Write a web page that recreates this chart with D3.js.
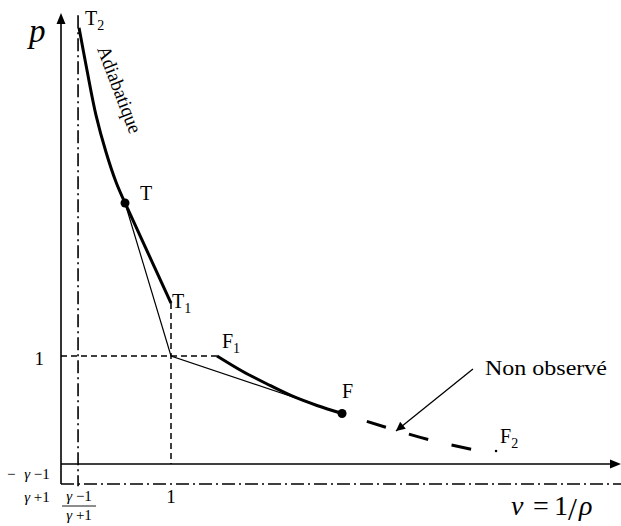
<!DOCTYPE html>
<html>
<head>
<meta charset="utf-8">
<script src="https://cdn.jsdelivr.net/npm/d3@7"></script>
<style>
body{margin:0;background:#fff}
svg text{font-family:"Liberation Serif","Times New Roman",serif;fill:#000}
</style>
</head>
<body>
<svg id="chart" width="621" height="526" font-family="Liberation Serif, serif"></svg>
<script>
// adiabat, upper branch T2 -> T
var adiabatV = [0.164, 0.236, 0.318, 0.409, 0.500, 0.582];
var adiabatP = [4.04, 3.648, 3.231, 2.889, 2.611, 2.417];
// T -> T1
var segV = [0.582, 1.0];
var segP = [2.417, 1.49];
// lower branch F1 -> F
var lowerV = [1.418, 1.645, 1.873, 2.100, 2.327, 2.555];
var lowerP = [1.000, 0.861, 0.741, 0.630, 0.542, 0.468];
// not observed, F -> F2
var unobsV = [2.555, 2.945, 3.355, 3.764];
var unobsP = [0.468, 0.343, 0.222, 0.130];
// named points
var pointNames = ['T2', 'T', 'T1', 'F1', 'F', 'F2'];
var pointV = [0.164, 0.582, 1.0, 1.418, 2.555, 3.955];
var pointP = [4.04, 2.417, 1.49, 1.0, 0.468, 0.12];
// asymptotes (gamma-1)/(gamma+1)
var asymV = 0.155, asymP = -0.185;
// annotation arrow
var arrowV = [3.745, 3.045], arrowP = [0.88, 0.306];

var svg = d3.select('#chart');
var x = d3.scaleLinear().domain([0, 5]).range([61, 611]);
var y = d3.scaleLinear().domain([0, 4]).range([464, 32]);

function zip(vs, ps){ return vs.map(function(v, i){ return [v, ps[i]]; }); }
var line = d3.line().x(function(d){ return x(d[0]); }).y(function(d){ return y(d[1]); });
var curve = d3.line().curve(d3.curveMonotoneX).x(function(d){ return x(d[0]); }).y(function(d){ return y(d[1]); });

var xMax = x.invert(621), yMax = y.invert(13);

// arrowhead marker for annotation
svg.append('defs').append('marker')
  .attr('id', 'head').attr('viewBox', '0 0 10 10').attr('refX', 10).attr('refY', 5)
  .attr('markerWidth', 11).attr('markerHeight', 9).attr('markerUnits', 'userSpaceOnUse')
  .attr('orient', 'auto')
  .append('path').attr('d', 'M0,0L10,5L0,10z').attr('fill', '#000');

// asymptotes, dash-dot
svg.append('path').attr('d', line([[asymV, yMax - 0.02], [asymV, asymP - 0.02]]))
  .attr('stroke', '#000').attr('stroke-width', 1.6).attr('stroke-dasharray', '13,4,2,4').attr('fill', 'none');
svg.append('path').attr('d', line([[0, asymP], [xMax, asymP]]))
  .attr('stroke', '#000').attr('stroke-width', 1.6).attr('stroke-dasharray', '13,4,2,4').attr('fill', 'none');

// guides at 1
svg.append('path').attr('d', line([[0, 1], [pointV[3], 1]]))
  .attr('stroke', '#000').attr('stroke-width', 1.5).attr('stroke-dasharray', '6,4').attr('fill', 'none');
svg.append('path').attr('d', line([[1, pointP[2]], [1, 0]]))
  .attr('stroke', '#000').attr('stroke-width', 1.5).attr('stroke-dasharray', '6,4').attr('fill', 'none');

// axes
svg.append('path').attr('d', line([[0, asymP], [0, yMax - 0.1]]))
  .attr('stroke', '#000').attr('stroke-width', 1.6).attr('fill', 'none');
svg.append('path').attr('d', 'M' + x(0) + ',' + y(yMax) + 'l-4.5,11h9z').attr('fill', '#000');
svg.append('path').attr('d', line([[0, 0], [xMax - 0.08, 0]]))
  .attr('stroke', '#000').attr('stroke-width', 1.6).attr('fill', 'none');
svg.append('path').attr('d', 'M' + x(xMax) + ',' + y(0) + 'l-11,-4.5v9z').attr('fill', '#000');

// Rayleigh lines (thin)
svg.append('path').attr('d', line([[pointV[1], pointP[1]], [1, 1], [pointV[4], pointP[4]]]))
  .attr('stroke', '#000').attr('stroke-width', 1.2).attr('fill', 'none');

// adiabat thick
svg.append('path').attr('d', d3.line().curve(d3.curveCatmullRom)
    .x(function(d){ return x(d[0]); }).y(function(d){ return y(d[1]); })(zip(adiabatV, adiabatP)))
  .attr('stroke', '#000').attr('stroke-width', 3).attr('fill', 'none');
svg.append('path').attr('d', line(zip(segV, segP)))
  .attr('stroke', '#000').attr('stroke-width', 3).attr('fill', 'none');
svg.append('path').attr('d', curve(zip(lowerV, lowerP)))
  .attr('stroke', '#000').attr('stroke-width', 3).attr('fill', 'none');
svg.append('path').attr('d', curve(zip(unobsV, unobsP)))
  .attr('stroke', '#000').attr('stroke-width', 3).attr('fill', 'none')
  .attr('stroke-dasharray', '20,24').attr('stroke-dashoffset', 18);

// points
svg.selectAll('circle.pt').data([1, 4]).enter().append('circle')
  .attr('cx', function(i){ return x(pointV[i]); }).attr('cy', function(i){ return y(pointP[i]); })
  .attr('r', 4.5).attr('fill', '#000');
svg.append('circle').attr('cx', x(pointV[5])).attr('cy', y(pointP[5])).attr('r', 1.3).attr('fill', '#000');

// point labels: offsets in px from each point
var labelOff = {T2: [6, -3], T: [15, -3], T1: [1, 5], F1: [5, -8], F: [0, -15], F2: [4, -8]};
pointNames.forEach(function(name, i){
  var t = svg.append('text')
    .attr('x', x(pointV[i]) + labelOff[name][0])
    .attr('y', y(pointP[i]) + labelOff[name][1])
    .attr('font-size', 20);
  t.append('tspan').text(name[0]);
  if (name.length > 1) t.append('tspan').attr('font-size', 14).attr('dy', 5).text(name[1]);
});

// Adiabatique
svg.append('text').attr('transform', 'translate(97,49) rotate(69)')
  .attr('font-size', 19.5).attr('textLength', 92).attr('lengthAdjust', 'spacingAndGlyphs')
  .text('Adiabatique');

// annotation
svg.append('path').attr('d', line(zip(arrowV, arrowP)))
  .attr('stroke', '#000').attr('stroke-width', 1.3).attr('marker-end', 'url(#head)');
svg.append('text').attr('x', x(arrowV[0]) + 12).attr('y', y(arrowP[0]) + 6)
  .attr('font-size', 20).attr('textLength', 122).attr('lengthAdjust', 'spacingAndGlyphs')
  .text('Non observé');

// axis titles
svg.append('text').attr('x', 29).attr('y', 42).attr('font-size', 33).attr('font-style', 'italic').text('p');
var vt = svg.append('text').attr('y', 515).attr('font-size', 28);
vt.append('tspan').attr('x', 511).attr('font-style', 'italic').text('v');
vt.append('tspan').attr('x', 533).text('=');
vt.append('tspan').attr('x', 554).text('1');
svg.append('text').attr('x', 568).attr('y', 520).attr('font-size', 32).text('/');
svg.append('text').attr('x', 579).attr('y', 515).attr('font-size', 28).attr('font-style', 'italic').text('ρ');

// ticks "1"
svg.append('text').attr('x', x(0) - 17).attr('y', y(1) + 9).attr('text-anchor', 'end')
  .attr('font-size', 19).text('1');
svg.append('text').attr('x', x(1)).attr('y', 503).attr('text-anchor', 'middle')
  .attr('font-size', 19).text('1');

// fractions (gamma-1)/(gamma+1)
function frac(cx, yNum, yDen, bar){
  var n = svg.append('text').attr('x', cx).attr('y', yNum).attr('text-anchor', 'middle').attr('font-size', 15);
  n.append('tspan').attr('font-style', 'italic').text('γ');
  n.append('tspan').text(' −1');
  var d = svg.append('text').attr('x', cx).attr('y', yDen).attr('text-anchor', 'middle').attr('font-size', 15);
  d.append('tspan').attr('font-style', 'italic').text('γ');
  d.append('tspan').text(' +1');
  if (bar) svg.append('line').attr('x1', cx - 17).attr('x2', cx + 17).attr('y1', bar).attr('y2', bar)
    .attr('stroke', '#000').attr('stroke-width', 0.9);
}
frac(x(asymV) + 1, 501, 520, 506);
svg.append('text').attr('x', 7).attr('y', 479).attr('font-size', 15).text('−');
frac(37, 479, 502, null);
</script>
</body>
</html>
